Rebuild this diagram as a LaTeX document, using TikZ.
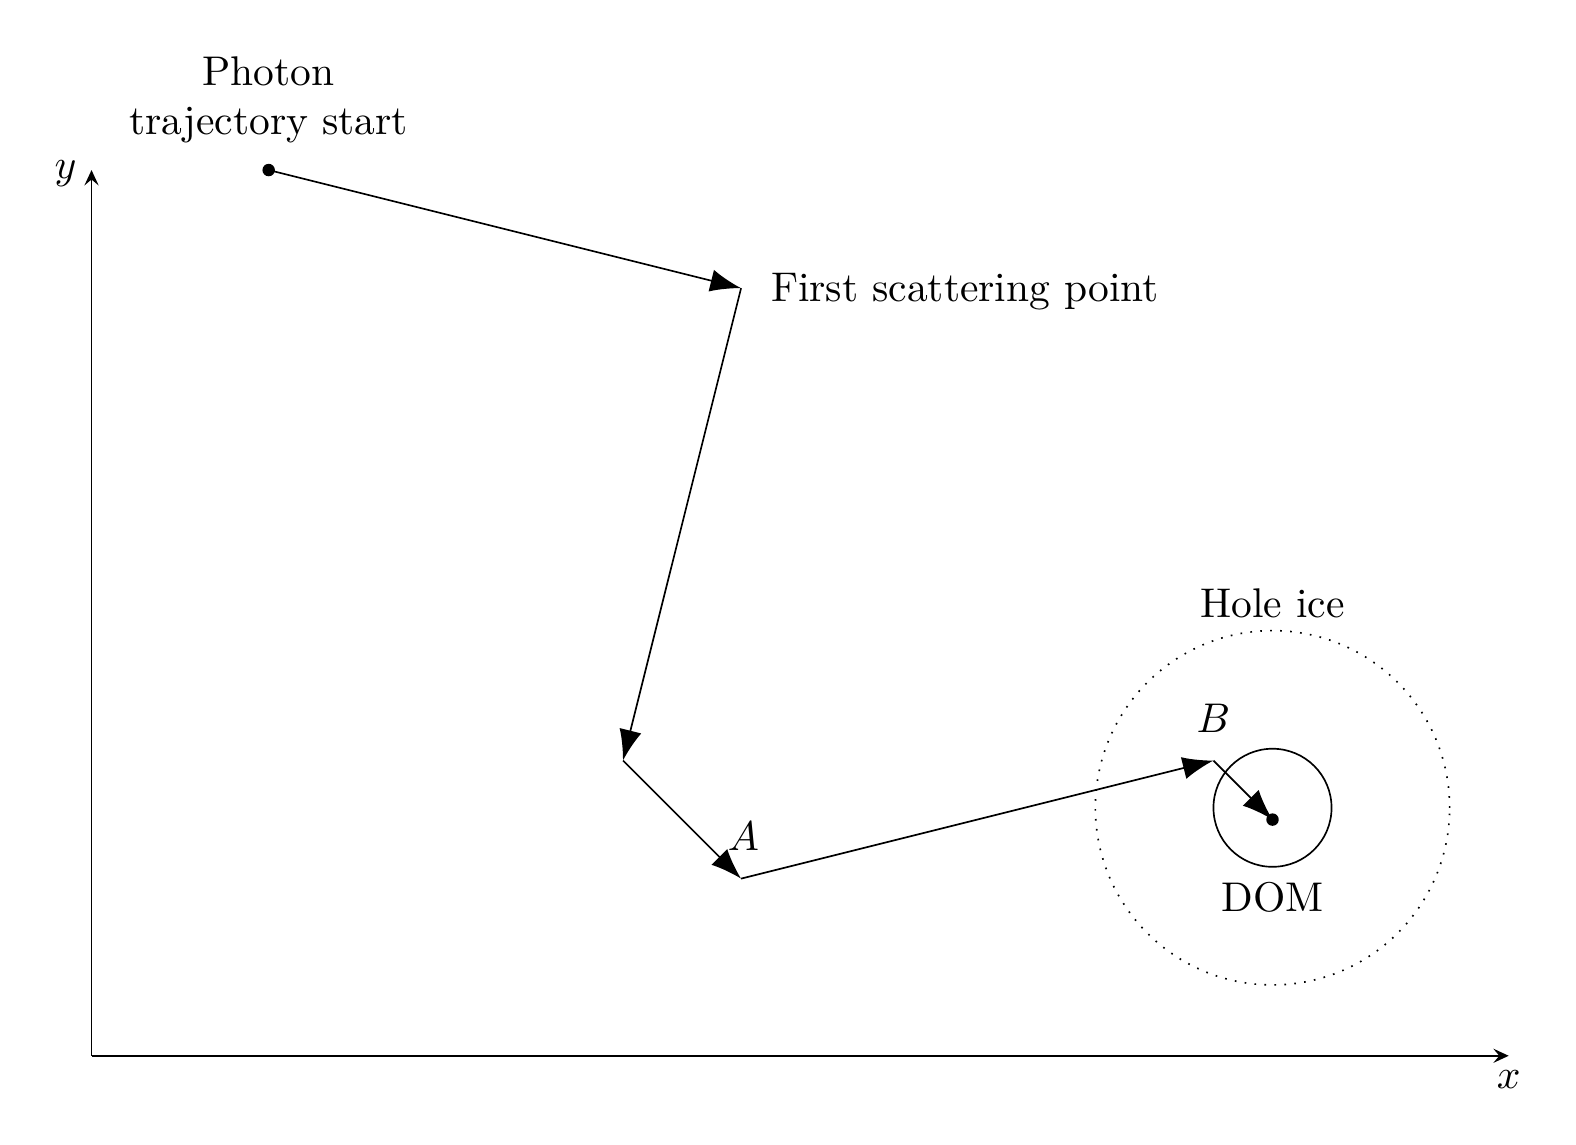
\documentclass[tikz,border=0pt]{standalone}
\usetikzlibrary{arrows.meta}
\begin{document}
\begin{tikzpicture}[
  ray/.style={-{Latex[length=2.6mm,width=1.9mm]}},
  axis/.style={-{Stealth[length=1.3mm,width=1.2mm,inset=0.5mm]}},
  pt/.style={circle,fill,inner sep=0pt,minimum size=3pt},
  lbl/.style={inner sep=0pt}
]
\useasboundingbox (-0.775,-0.754) rectangle (12.57,8.94);
% axes
\coordinate (O) at (0,0);
\coordinate (xend) at (12,0);
\coordinate (yend) at (0,7.5);
\draw[axis] (O) -- (xend);
\draw[axis] (O) -- (yend);
\node[lbl] (xl) at (12.0,-0.2) {$x$};
\node[lbl] (yl) at (-0.22,7.47) {$y$};
% points
\node[pt] (start) at (1.5,7.5) {};
\coordinate (s1) at (5.5,6.5);
\coordinate (s2) at (4.5,2.5);
\coordinate (A) at (5.5,1.5);
\coordinate (B) at (9.5,2.5);
\node[pt] (dot) at (10,2) {};
\coordinate (domc) at (10,2.1);
% circles
\node[circle,draw,minimum size=1cm,inner sep=0pt] (dom) at (domc) {};
\node[circle,draw,dotted,minimum size=3cm,inner sep=0pt] (hole) at (domc) {};
% trajectory
\draw[ray] (start.center) -- (s1);
\draw[ray] (s1) -- (s2);
\draw[ray] (s2) -- (A);
\draw[ray] (A) -- (B);
\draw[ray] (B) -- (dot.center);
% labels
\node[align=center] (startl) at (1.5,8.095) {Photon\\trajectory start};
\node[anchor=west] (s1l) at (5.63,6.47) {First scattering point};
\node[lbl] (Al) at (5.52,1.86) {$A$};
\node[lbl] (Bl) at (9.5,2.86) {$B$};
\node (holel) at (10,3.83) {Hole ice};
\node (doml) at (10,1.34) {DOM};
\end{tikzpicture}
\end{document}
